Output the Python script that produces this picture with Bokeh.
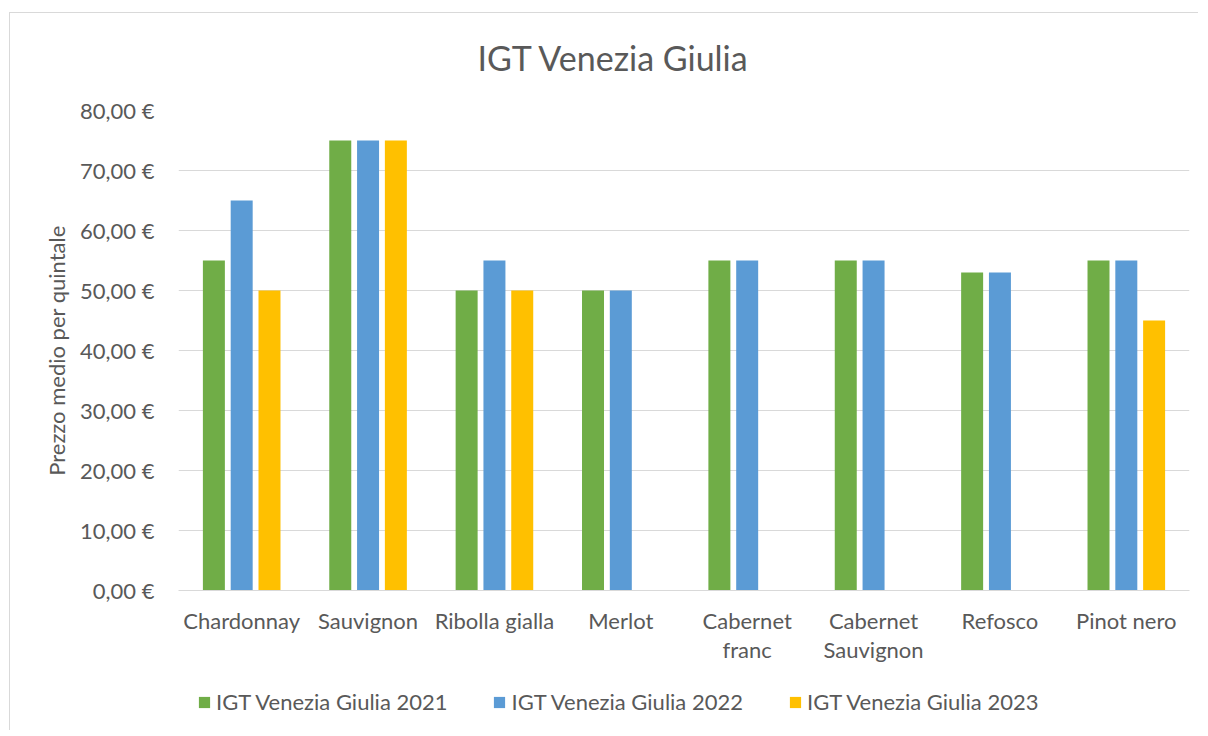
from bokeh.plotting import figure
from bokeh.layouts import column
from bokeh.models import (ColumnDataSource, FactorRange, Range1d, FixedTicker,
                          CustomJSTickFormatter, Legend, LegendItem, Title)
from bokeh.transform import dodge
from bokeh.embed import file_html
from bokeh.resources import INLINE

# ---- data ----
categories = ["Chardonnay", "Sauvignon", "Ribolla gialla", "Merlot",
              "Cabernet\nfranc", "Cabernet\nSauvignon", "Refosco", "Pinot nero"]
v2021 = [55, 75, 50, 50, 55, 55, 53, 55]
v2022 = [65, 75, 55, 50, 55, 55, 53, 55]
v2023 = [50, 75, 50, float("nan"), float("nan"), float("nan"), float("nan"), 45]
series_names = ["IGT Venezia Giulia 2021", "IGT Venezia Giulia 2022", "IGT Venezia Giulia 2023"]
y_ticks = [0, 10, 20, 30, 40, 50, 60, 70, 80]
title_text = "IGT Venezia Giulia"
y_label = "Prezzo medio per quintale"

colors = ["#70AD47", "#5B9BD5", "#FFC000"]
FONT = "Lato"
TXT = "#595959"
FS = "22px"

src = ColumnDataSource(dict(cat=categories, a=v2021, b=v2022, c=v2023))

p = figure(x_range=FactorRange(*categories), y_range=Range1d(0, 80),
           width=1188, height=667, output_backend="svg", toolbar_location=None,
           min_border_left=168, min_border_right=9, min_border_top=97,
           min_border_bottom=90)
p.outline_line_color = None
p.background_fill_color = "white"
p.border_fill_color = "white"

w = 0.174
off = 0.22
for col, dx, c in zip(["a", "b", "c"], [-off, 0, off], colors):
    p.vbar(x=dodge("cat", dx, range=p.x_range), top=col, width=w, source=src,
           fill_color=c, line_color=None)

# y axis
p.yaxis.ticker = FixedTicker(ticks=y_ticks)
p.yaxis.formatter = CustomJSTickFormatter(code="return tick.toFixed(2).replace('.', ',') + ' €'")
p.yaxis.axis_line_color = None
p.yaxis.major_tick_line_color = None
p.yaxis.minor_tick_line_color = None
p.yaxis.major_label_standoff = 18
p.yaxis.major_label_text_font = FONT
p.yaxis.major_label_text_font_size = FS
p.yaxis.major_label_text_color = TXT
p.yaxis.axis_label = y_label
p.yaxis.axis_label_text_font = FONT
p.yaxis.axis_label_text_font_size = FS
p.yaxis.axis_label_text_font_style = "normal"
p.yaxis.axis_label_text_color = TXT
p.yaxis.axis_label_standoff = 7

# x axis
p.xaxis.axis_line_color = "#d9d9d9"
p.xaxis.axis_line_width = 1
p.xaxis.major_tick_line_color = None
p.xaxis.minor_tick_line_color = None
p.xaxis.major_label_standoff = 10
p.xaxis.major_label_text_font = FONT
p.xaxis.major_label_text_font_size = FS
p.xaxis.major_label_text_color = TXT
p.xaxis.major_label_text_line_height = 1.1

p.xgrid.grid_line_color = None
p.ygrid.grid_line_color = "#d9d9d9"
p.ygrid.grid_line_width = 1

# real title (outermost) + small spacer title next to the frame
p.title.text = title_text
p.title.align = "left"
p.title.offset = 299
p.title.standoff = 41
p.title.text_font = FONT
p.title.text_font_size = "34px"
p.title.text_font_style = "normal"
p.title.text_color = TXT
p.add_layout(Title(text=" ", text_font_size="2px", standoff=8), "above")

# legend strip (separate figure below)
p2 = figure(width=1188, height=50, x_range=Range1d(0, 1), y_range=Range1d(0, 1),
            output_backend="svg", toolbar_location=None, min_border=0)
p2.axis.visible = False
p2.grid.visible = False
p2.outline_line_color = None
p2.border_fill_color = "white"
dummies = []
for c in colors:
    dummies.append(p2.vbar(x=[0.5], bottom=[-2], top=[-1], width=0.1,
                           fill_color=c, line_color=None))

legend = Legend(items=[LegendItem(label=n, renderers=[r]) for n, r in zip(series_names, dummies)],
                orientation="horizontal", location=(19, 15), padding=0,
                spacing=45, glyph_width=14, glyph_height=14, label_standoff=5,
                border_line_color=None, background_fill_alpha=0,
                label_text_font=FONT, label_text_font_size=FS, label_text_color=TXT)
p2.add_layout(legend, "center")

layout = column(p, p2, spacing=0)
layout.styles = {"border-left": "1px solid #d9d9d9", "border-top": "1px solid #d9d9d9",
                 "margin-left": "9px", "margin-top": "12px"}

open("out.html", "w").write(file_html(layout, INLINE))
